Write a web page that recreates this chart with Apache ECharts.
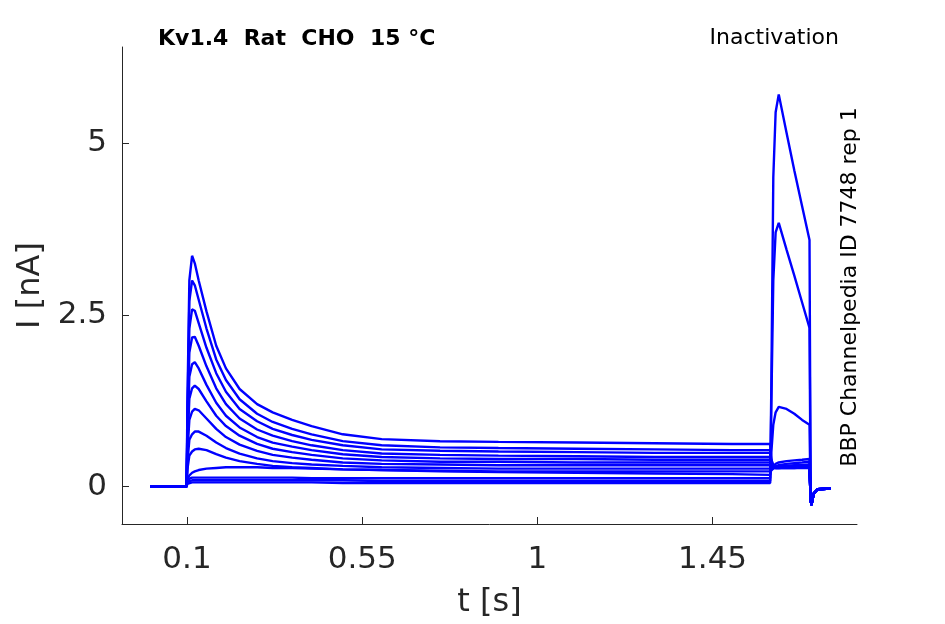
<!DOCTYPE html>
<html>
<head>
<meta charset="utf-8">
<script src="https://cdn.jsdelivr.net/npm/echarts@6/dist/echarts.min.js"></script>
<style>
  html, body { margin: 0; padding: 0; background: #fff; }
  #chart { width: 945px; height: 624px; }
</style>
</head>
<body>
<div id="chart"></div>
<script>
// 采样时间点 (s)
const timeS = [0.005, 0.099, 0.101, 0.106, 0.113, 0.12, 0.13, 0.15, 0.175, 0.2, 0.235, 0.28, 0.32, 0.37, 0.42, 0.5, 0.6, 0.75, 0.9, 1.1, 1.3, 1.5, 1.598,
               1.601, 1.606, 1.612, 1.62, 1.64, 1.66, 1.68, 1.699,
               1.702, 1.704, 1.71, 1.72, 1.753];

// 预脉冲段电流 (nA), 每条曲线 23 个点
const prePulse = [
    [0, 0, 1.2, 3.0, 3.36, 3.25, 3.0, 2.55, 2.05, 1.72, 1.42, 1.2, 1.08, 0.97, 0.88, 0.76, 0.69, 0.66, 0.65, 0.64, 0.63, 0.62, 0.62],
    [0, 0, 1.0, 2.7, 3.0, 2.93, 2.72, 2.3, 1.85, 1.55, 1.27, 1.06, 0.94, 0.84, 0.76, 0.66, 0.6, 0.57, 0.56, 0.55, 0.54, 0.53, 0.53],
    [0, 0, 0.9, 2.3, 2.58, 2.56, 2.38, 2.02, 1.65, 1.38, 1.13, 0.95, 0.84, 0.75, 0.68, 0.6, 0.54, 0.52, 0.51, 0.5, 0.49, 0.49, 0.49],
    [0, 0, 0.8, 1.95, 2.17, 2.18, 2.05, 1.75, 1.43, 1.2, 0.99, 0.83, 0.74, 0.66, 0.6, 0.53, 0.48, 0.46, 0.45, 0.44, 0.43, 0.43, 0.43],
    [0, 0, 0.7, 1.6, 1.78, 1.81, 1.72, 1.48, 1.22, 1.03, 0.86, 0.72, 0.64, 0.58, 0.53, 0.47, 0.43, 0.41, 0.4, 0.4, 0.39, 0.39, 0.39],
    [0, 0, 0.6, 1.28, 1.43, 1.47, 1.42, 1.24, 1.03, 0.88, 0.74, 0.62, 0.55, 0.5, 0.46, 0.41, 0.38, 0.36, 0.36, 0.35, 0.35, 0.35, 0.35],
    [0, 0, 0.5, 0.97, 1.09, 1.13, 1.11, 0.99, 0.84, 0.72, 0.61, 0.52, 0.46, 0.42, 0.39, 0.35, 0.33, 0.32, 0.31, 0.31, 0.31, 0.31, 0.31],
    [0, 0, 0.35, 0.68, 0.76, 0.8, 0.8, 0.74, 0.64, 0.56, 0.48, 0.41, 0.37, 0.34, 0.32, 0.3, 0.28, 0.27, 0.26, 0.26, 0.26, 0.26, 0.26],
    [0, 0, 0.25, 0.45, 0.51, 0.54, 0.55, 0.53, 0.47, 0.42, 0.37, 0.33, 0.3, 0.28, 0.27, 0.25, 0.24, 0.23, 0.22, 0.22, 0.22, 0.22, 0.22],
    [0, 0, 0.1, 0.16, 0.2, 0.22, 0.24, 0.26, 0.27, 0.28, 0.28, 0.28, 0.27, 0.27, 0.26, 0.25, 0.24, 0.22, 0.21, 0.2, 0.19, 0.18, 0.17],
    [0, 0, 0.1, 0.12, 0.13, 0.13, 0.13, 0.13, 0.13, 0.13, 0.13, 0.13, 0.13, 0.13, 0.12, 0.12, 0.12, 0.12, 0.12, 0.12, 0.12, 0.12, 0.12],
    [0, 0, 0.07, 0.09, 0.09, 0.09, 0.09, 0.09, 0.09, 0.09, 0.09, 0.09, 0.09, 0.09, 0.09, 0.09, 0.08, 0.08, 0.08, 0.08, 0.08, 0.08, 0.08],
    [0, 0, 0.04, 0.06, 0.06, 0.06, 0.06, 0.06, 0.06, 0.06, 0.06, 0.06, 0.06, 0.06, 0.06, 0.05, 0.05, 0.05, 0.05, 0.05, 0.05, 0.05, 0.05]
];

// 测试脉冲段电流 (nA), 每条曲线 8 个点
const testPulse = [
    [0.4, 0.3, 0.29, 0.29, 0.3, 0.3, 0.3, 0.3],
    [0.38, 0.3, 0.29, 0.29, 0.29, 0.3, 0.3, 0.3],
    [0.36, 0.29, 0.28, 0.28, 0.29, 0.29, 0.29, 0.29],
    [0.34, 0.29, 0.28, 0.28, 0.28, 0.28, 0.29, 0.29],
    [0.32, 0.28, 0.27, 0.27, 0.28, 0.28, 0.28, 0.28],
    [0.3, 0.27, 0.27, 0.27, 0.27, 0.27, 0.28, 0.28],
    [0.28, 0.27, 0.27, 0.27, 0.27, 0.27, 0.27, 0.27],
    [0.27, 0.27, 0.28, 0.29, 0.3, 0.31, 0.31, 0.32],
    [0.22, 0.26, 0.29, 0.31, 0.33, 0.34, 0.35, 0.36],
    [0.25, 0.3, 0.33, 0.35, 0.37, 0.38, 0.39, 0.4],
    [0.5, 0.9, 1.08, 1.16, 1.13, 1.06, 0.97, 0.9],
    [1.2, 3.0, 3.7, 3.84, 3.45, 3.07, 2.68, 2.31],
    [1.5, 4.5, 5.45, 5.71, 5.15, 4.6, 4.08, 3.59]
];

// 脉冲结束后的尾电流 (nA)
const tailValues = [-0.2, -0.27, -0.1, -0.04, -0.03];

const xTicks = [0.1, 0.55, 1, 1.45];
const yTicks = [0, 2.5, 5];

const FONT = 'DejaVu Sans';
const INK = '#262626';

const chart = echarts.init(document.getElementById('chart'));

const series = [];
for (let k = 0; k < prePulse.length; k++) {
    const values = prePulse[k].concat(testPulse[k], tailValues);
    const points = [];
    for (let i = 0; i < timeS.length; i++) {
        points.push([timeS[i], values[i]]);
    }
    series.push({
        type: 'line',
        data: points,
        showSymbol: false,
        lineStyle: { width: 2.4, color: '#0000ff' },
        silent: true
    });
}

const option = {
    animation: false,
    backgroundColor: '#ffffff',
    grid: { left: 122, right: 88, top: 47, bottom: 98, containLabel: false },
    xAxis: {
        type: 'value',
        min: -0.067,
        max: 1.821,
        name: 't [s]',
        nameLocation: 'middle',
        nameGap: 63,
        nameTextStyle: { fontFamily: FONT, fontSize: 32, color: INK },
        axisLine: { show: true, onZero: false, lineStyle: { color: INK, width: 1 } },
        axisTick: { show: true, inside: true, length: 7, customValues: xTicks, lineStyle: { color: INK } },
        axisLabel: { customValues: xTicks, fontFamily: FONT, fontSize: 31, color: INK, margin: 20 },
        splitLine: { show: false }
    },
    yAxis: {
        type: 'value',
        min: -0.546,
        max: 6.40,
        name: 'I [nA]',
        nameLocation: 'middle',
        nameGap: 62,
        nameTextStyle: { fontFamily: FONT, fontSize: 32, color: INK },
        axisLine: { show: true, onZero: false, lineStyle: { color: INK, width: 1 } },
        axisTick: { show: true, inside: true, length: 7, customValues: yTicks, lineStyle: { color: INK } },
        axisLabel: { customValues: yTicks, fontFamily: FONT, fontSize: 31, color: INK, margin: 15 },
        splitLine: { show: false }
    },
    graphic: [
        {
            type: 'text', left: 158, top: 28,
            style: { text: 'Kv1.4  Rat  CHO  15 °C', fontFamily: FONT, fontSize: 22, fontWeight: 'bold', fill: '#000' }
        },
        {
            type: 'text', right: 106, top: 27,
            style: { text: 'Inactivation', fontFamily: FONT, fontSize: 22, fill: '#000' }
        },
        {
            type: 'text', x: 850, y: 287, rotation: Math.PI / 2,
            style: { text: 'BBP Channelpedia ID 7748 rep 1', fontFamily: FONT, fontSize: 22, fill: '#000', align: 'center', verticalAlign: 'middle' }
        }
    ],
    series: series
};

chart.setOption(option);
</script>
</body>
</html>
